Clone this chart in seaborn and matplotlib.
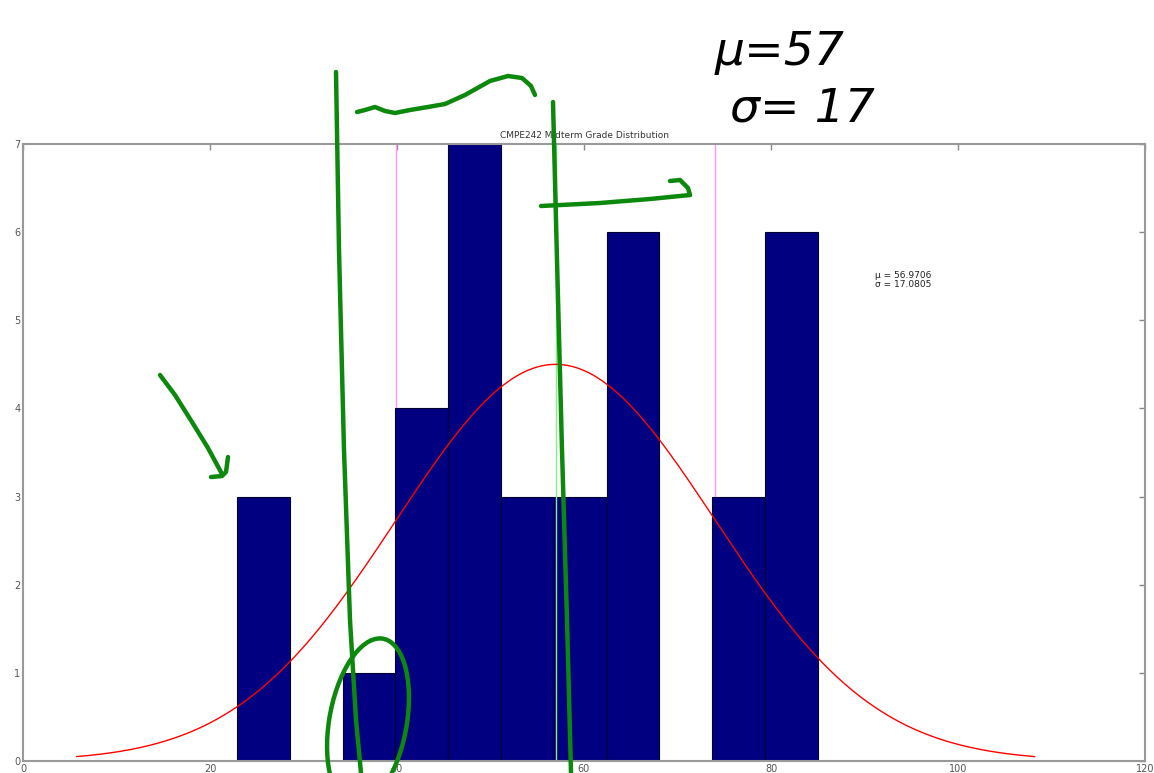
import numpy as np
import pandas as pd
import matplotlib.pyplot as plt
import seaborn as sns
from matplotlib.patches import Ellipse

# histogram of midterm grades (11 bins between min and max grade)
grade_min = 22.9
grade_max = 85.0
bin_counts = [3, 0, 1, 4, 7, 3, 3, 6, 0, 3, 6]
mu = 56.9706
sigma = 17.0805
curve_peak = 4.5

x_ticks = [0, 20, 40, 60, 80, 100, 120]
y_ticks = [0, 1, 2, 3, 4, 5, 6, 7]
title = "CMPE242 Midterm Grade Distribution"
note = "\u03bc = 56.9706\n\u03c3 = 17.0805"
handwritten = ["\u03bc=57", "\u03c3= 17"]

sns.set_style("white")
plt.rcParams["font.family"] = ["DejaVu Sans"]

W, H = 1154, 773
fig = plt.figure(figsize=(W / 100, H / 100), dpi=100)
ax = fig.add_axes([23 / W, 1 - 761 / H, (1145 - 23) / W, (761 - 144) / H])

ax.axvline(mu - sigma, color="#ff99ff", linewidth=1.0, zorder=1)
ax.axvline(mu + sigma, color="#ff99ff", linewidth=1.0, zorder=1)

edges = np.linspace(grade_min, grade_max, len(bin_counts) + 1)
df = pd.DataFrame({"grade": (edges[:-1] + edges[1:]) / 2, "count": bin_counts})
sns.histplot(data=df, x="grade", weights="count", bins=list(edges), ax=ax,
             color="#000080", edgecolor="#000030", linewidth=0.8, alpha=1.0, zorder=2)

ax.axvline(mu, color="#88ee88", linewidth=1.0, zorder=3)

# fitted normal curve
xs = np.linspace(mu - 3 * sigma, mu + 3 * sigma, 300)
ys = curve_peak * np.exp(-0.5 * ((xs - mu) / sigma) ** 2)
sns.lineplot(x=xs, y=ys, ax=ax, color="red", linewidth=1.0, zorder=4)

ax.text(91.1, 5.35, note, fontsize=6.5, color="#222222", va="bottom", ha="left",
        linespacing=1.1)

ax.set_xlim(0, 120)
ax.set_ylim(0, 7)
ax.set_xticks(x_ticks)
ax.set_yticks(y_ticks)
ax.set_xlabel("")
ax.set_ylabel("")
ax.set_title(title, fontsize=6.5, color="#333333", pad=4)
ax.tick_params(direction="in", length=4, width=1, colors="#888888",
               labelcolor="#555555", labelsize=7, top=True, right=True, pad=2)
for s in ax.spines.values():
    s.set_color("#999999")
    s.set_linewidth(1.5)
    s.set_zorder(5)

# hand-drawn annotations on top of the screenshot (pixel coordinates)
def px(points):
    pts = np.array(points, dtype=float)
    return pts[:, 0] / W, 1 - pts[:, 1] / H

green = "#0c880c"
strokes = [
    [(336, 72), (339, 250), (344, 450), (350, 620), (356, 720), (361, 773)],
    [(553, 102), (557, 260), (562, 450), (567, 620), (571, 773)],
    [(357, 112), (365, 110), (375, 107), (385, 111), (395, 113), (410, 110),
     (428, 107), (445, 104), (465, 95), (490, 81), (508, 76), (522, 78),
     (531, 86), (535, 95)],
    [(541, 206), (600, 203), (650, 199), (690, 195)],
    [(670, 181), (680, 180), (688, 188), (690, 195)],
    [(160, 375), (175, 395), (192, 422), (208, 448), (222, 474)],
    [(228, 457), (226, 472), (222, 476), (211, 477)],
]
for st in strokes:
    xx, yy = px(st)
    fig.add_artist(plt.Line2D(xx, yy, color=green, linewidth=3.2,
                              solid_capstyle="round", solid_joinstyle="round"))
fig.add_artist(Ellipse((368 / W, 1 - 722 / H), 78 / W, 168 / H, angle=-6,
                       fill=False, edgecolor=green, linewidth=3.2))

fig.text(715 / W, 1 - 65 / H, handwritten[0], fontsize=34, color="black",
         fontstyle="italic", ha="left", va="baseline")
fig.text(730 / W, 1 - 122 / H, handwritten[1], fontsize=34, color="black",
         fontstyle="italic", ha="left", va="baseline")

fig.savefig("out.png", dpi=100)
